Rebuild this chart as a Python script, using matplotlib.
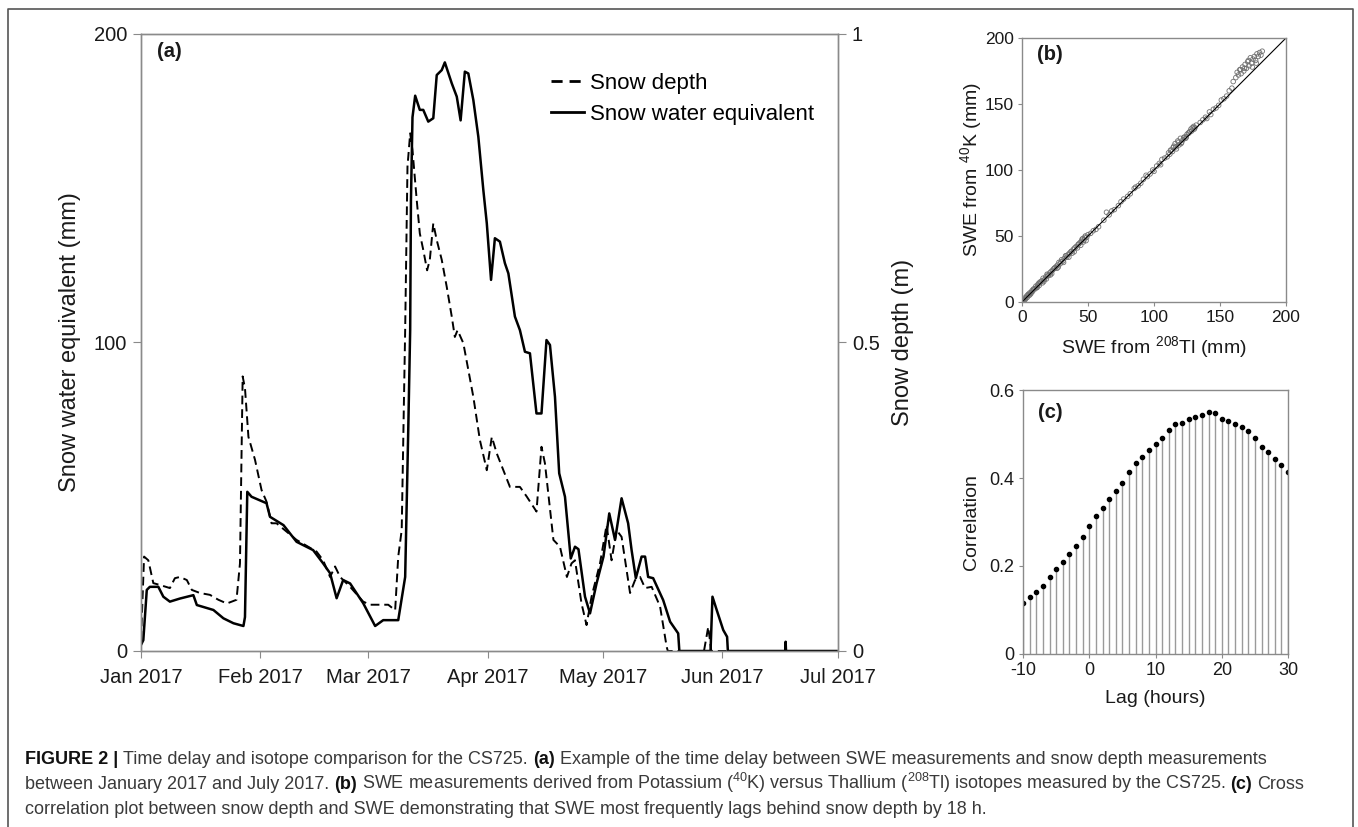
import numpy as np
import matplotlib
matplotlib.use("Agg")
import matplotlib.pyplot as plt
from matplotlib.lines import Line2D

plt.rcParams['font.family'] = ['Liberation Sans', 'DejaVu Sans']
plt.rcParams['mathtext.fontset'] = 'custom'
plt.rcParams['mathtext.rm'] = 'Liberation Sans'
plt.rcParams['mathtext.it'] = 'Liberation Sans:italic'
plt.rcParams['mathtext.bf'] = 'Liberation Sans:bold'
plt.rcParams['axes.unicode_minus'] = False

# ---- data ----
# (a) SWE (mm), days since 1 Jan 2017
swe_day = [0, 0.6, 1.5, 2.3, 4.5, 5.8, 7.5, 10.1, 13.6, 14.5,
           18.8, 21.4, 24, 26.6, 27, 27.6, 28.7, 32.6, 33.5, 37,
           40.4, 44.7, 47.3, 49.1, 50.8, 52.5, 54.3, 57.7, 60.8, 62.9,
           66.8, 68.6, 69.4, 69.9, 70.1, 70.5, 71.2, 72.4, 73.3, 74.6,
           75.9, 76.8, 78.1, 78.9, 80.7, 82, 83, 84.1, 85, 86.3,
           87.6, 88.9, 89.8, 90.9, 91.9, 93.2, 94.5, 95.4, 97.1, 98.4,
           99.7, 101, 102.7, 104, 105.3, 106.2, 107.5, 108.6, 110.1, 111.6,
           112.7, 113.6, 115.3, 116.6, 118.3, 120.1, 121.6, 123.1, 124.8, 126.5,
           127.4, 128.5, 130, 130.9, 131.7, 133, 135.6, 137.4, 139.5, 139.8,
           147.9, 148.4, 149.5, 151.2, 152.2, 152.4, 167.3, 167.4, 167.5, 180.6]
swe_mm = [2, 3.5, 19.8, 20.8, 20.8, 17.6, 16, 17, 18.1, 14.9,
          13.3, 10.6, 9, 8.1, 11, 51.6, 50, 47.9, 43.5, 40.8,
          35.4, 32.7, 28.4, 25.2, 17.1, 23, 21.9, 15.5, 8.1, 10,
          10, 24, 71.6, 104, 146, 173, 180, 175.4, 175.4, 171.6,
          172.7, 186.7, 188.3, 190.8, 184, 179.7, 172, 187.8, 187.2, 178.6,
          166.7, 149.4, 138.6, 120.3, 133.8, 132.7, 125.7, 122.4, 108.4, 104,
          97, 96.5, 77, 77, 100.8, 99.2, 82.4, 57.6, 50, 30,
          33.8, 33, 17.6, 12.2, 21.9, 30.6, 44.6, 36, 49.5, 41.4,
          32.7, 23.6, 30.6, 30.6, 24, 23.6, 16.5, 9.5, 5.7, 0,
          0, 17.6, 13.3, 6.8, 4.6, 0, 0, 3, 0, 0]

# (a) snow depth (m)
depth_day = [0, 0.8, 1.9, 3.2, 4.9, 7.5, 8.8, 10.1, 11.9, 13.2,
             15.3, 17.9, 20.1, 22.3, 24.8, 25.7, 26.4, 27, 27.9, 29.6,
             31.3, 32.6, 33.9, 35.2, 40.4, 45.6, 47.3, 49.1, 50.4, 51.7,
             54.3, 57.7, 59.5, 64.2, 66, 66.8, 67.7, 68.6, 69.2, 69.9,
             70.5, 71.6, 72.4, 73.3, 74.3, 75, 75.9, 76.8, 78.1, 79.4,
             80.7, 81.5, 82.2, 83.7, 86.3, 88, 89.8, 91.1, 92.4, 94.1,
             95.8, 98.4, 100.2, 102.7, 104, 104.9, 107.1, 108.8, 110.6, 111.8,
             112.7, 114.4, 115.7, 117, 119.2, 120.9, 122.2, 123.5, 124.8, 127,
             128.3, 129.6, 130.9, 132.6, 134.8, 136.5, 136.8, 146.2, 147.3, 148.1,
             180.6]
depth_m = [0.018, 0.153, 0.147, 0.110, 0.107, 0.102, 0.118, 0.120, 0.115, 0.099,
           0.094, 0.091, 0.083, 0.077, 0.083, 0.142, 0.445, 0.426, 0.347, 0.31,
           0.261, 0.242, 0.207, 0.207, 0.18, 0.161, 0.147, 0.12, 0.137, 0.12,
           0.104, 0.08, 0.075, 0.075, 0.066, 0.153, 0.196, 0.52, 0.785, 0.839,
           0.812, 0.731, 0.677, 0.65, 0.617, 0.634, 0.693, 0.666, 0.634, 0.59,
           0.542, 0.509, 0.52, 0.499, 0.412, 0.342, 0.293, 0.347, 0.32, 0.293,
           0.266, 0.266, 0.25, 0.226, 0.331, 0.304, 0.18, 0.169, 0.12, 0.142,
           0.147, 0.077, 0.042, 0.088, 0.142, 0.204, 0.147, 0.196, 0.185, 0.094,
           0.115, 0.12, 0.102, 0.104, 0.072, 0.007, 0, 0, 0.039, 0,
           0]

month_starts = ['2017-01-01', '2017-02-01', '2017-03-01', '2017-04-01',
                '2017-05-01', '2017-06-01', '2017-07-01']
month_labels = ['Jan 2017', 'Feb 2017', 'Mar 2017', 'Apr 2017',
                'May 2017', 'Jun 2017', 'Jul 2017']

# (b) SWE from 208Tl vs SWE from 40K (mm)
swe_tl = [0.5, 1, 1.5, 2, 3, 3.5, 4, 5, 5.5, 6, 7, 7.5, 8, 9, 10, 10.5, 11, 12, 12.5, 13,
          14, 15, 15.5, 16, 17, 18, 18.5, 19, 20, 21, 22, 22.5, 23, 24, 25, 26, 27, 27.5,
          28, 29, 30, 31, 32, 33, 34, 35, 36, 37, 38, 39, 40, 41, 42, 43, 44, 45, 46, 47,
          48, 49, 50, 52, 54, 56,
          2.5, 4.5, 6.5, 8.5, 11.5, 13.5, 16.5, 19.5, 21.5, 24.5, 26.5, 29.5, 31.5, 33.5,
          35.5, 37.5, 39.5, 42.5, 44.5, 45.5, 46.5, 47.5, 48.5,
          58, 62, 64, 66, 68, 70, 73, 75, 77, 80, 82, 85, 86, 88, 90, 92, 94, 95, 97, 99, 100,
          102, 104, 105, 106, 108, 110, 111, 112, 113, 114, 115, 116, 117, 118, 119, 120,
          121, 122, 123, 124, 125, 126, 127, 128, 129, 130, 131, 132,
          112.5, 114.5, 116.5, 118.5, 120.5, 122.5, 124.5, 126.5, 128.5, 130.5,
          135, 137, 139, 140, 142, 143, 145, 147, 149, 151, 153, 155, 157, 159,
          160, 162, 163, 164, 165, 166, 167, 168, 169, 170, 171, 172, 173, 174, 175, 176,
          177, 178, 179, 180, 181, 182, 165.5, 168.5, 171.5, 174.5, 177.5]
swe_k = [1, 2, 1, 3, 3, 4.5, 3.5, 6, 5, 7, 7, 8.5, 8, 10, 10, 12, 11, 13, 14, 12.5,
         15, 16, 14.5, 18, 17, 19, 17.5, 21, 20, 22, 23, 21.5, 24, 25, 26, 27, 28, 26.5,
         30, 29, 32, 31, 33, 35, 34, 36, 37, 38, 37, 40, 41, 42, 41, 44, 45, 46, 48, 47,
         50, 49, 51, 52, 54, 55,
         2, 5.5, 6, 9.5, 11, 15, 15.5, 20.5, 20.5, 25.5, 25.5, 30.5, 30, 35,
         34, 38.5, 38, 43.5, 43, 47.5, 45.5, 49, 46.5,
         57, 62, 68, 66, 69, 70, 73, 76, 78, 80, 82, 86, 87, 88, 90, 93, 96, 95, 97, 100, 99,
         103, 105, 104, 108, 109, 110, 113, 112, 115, 114, 118, 120, 116, 122, 119, 124,
         121, 123, 125, 124, 127, 128, 129, 131, 132, 133, 132, 134,
         115, 117, 117.5, 121, 120, 124.5, 125, 128, 129.5, 131,
         136, 138, 140, 139, 144, 142, 146, 147, 149, 153, 154, 156, 160, 162,
         167, 170, 174, 172, 176, 173, 178, 175, 180, 177, 182, 179, 185, 181, 184, 186,
         183, 188, 186, 189, 187, 190, 176, 177, 183, 178, 181]

# (c) cross correlation
lags = list(range(-10, 31))
corr = [0.116, 0.129, 0.140, 0.155, 0.174, 0.193, 0.209, 0.228, 0.246, 0.266,
        0.290, 0.314, 0.331, 0.352, 0.370, 0.389, 0.414, 0.435, 0.447, 0.463,
        0.477, 0.492, 0.509, 0.522, 0.525, 0.534, 0.539, 0.543, 0.549, 0.547,
        0.535, 0.529, 0.522, 0.515, 0.506, 0.491, 0.471, 0.458, 0.444, 0.429,
        0.414]

W, H = 1358, 827
SPINE = '#8a8a8a'
TXT = '#1a1a1a'


def box(l, t, r, b):
    return [l / W, 1 - b / H, (r - l) / W, (b - t) / H]


def style(ax, size):
    for s in ax.spines.values():
        s.set_color(SPINE)
        s.set_linewidth(1)
    ax.tick_params(colors=SPINE, labelcolor=TXT, labelsize=size, direction='out')


fig = plt.figure(figsize=(W / 100, H / 100), dpi=100)

# outer frame (open at the bottom)
fig.add_artist(Line2D([8 / W, 8 / W, 1353 / W, 1353 / W], [0, 1 - 9 / H, 1 - 9 / H, 0],
                      color='#555555', lw=1.2))

# ---- (a) ----
start = np.datetime64('2017-01-01T00:00')
swe_t = start + (np.array(swe_day) * 1440).astype('timedelta64[m]')
depth_t = start + (np.array(depth_day) * 1440).astype('timedelta64[m]')
ticks = np.array(month_starts, dtype='datetime64[m]')

ax = fig.add_axes(box(141, 34, 838, 651))
ax2 = ax.twinx()
ax2.plot(depth_t, depth_m, color='black', lw=1.4, ls=(0, (4.5, 2.5)))
ax.plot(swe_t, swe_mm, color='black', lw=1.8)
ax.set_zorder(ax2.get_zorder() + 1)
ax.patch.set_visible(False)

ax.set_xlim(ticks[0], ticks[-1])
ax.set_ylim(0, 200)
ax2.set_ylim(0, 1)
ax.set_xticks(ticks)
ax.set_xticklabels(month_labels)
ax.set_yticks([0, 100, 200])
ax2.set_yticks([0, 0.5, 1])
ax2.set_yticklabels(['0', '0.5', '1'])
for a in (ax, ax2):
    style(a, 14.5)
ax.tick_params(axis='y', length=6, pad=4)
ax.tick_params(axis='x', length=5, pad=7)
ax2.tick_params(axis='y', length=6, pad=4)

ax.set_ylabel('Snow water equivalent (mm)', fontsize=17, color=TXT, va='center')
ax.yaxis.set_label_coords(-0.102, 0.5)
ax2.set_ylabel('Snow depth (m)', fontsize=17, color=TXT, va='center')
ax2.yaxis.set_label_coords(1.093, 0.5)
ax.text(0.023, 0.971, '(a)', transform=ax.transAxes, fontsize=14.5,
        fontweight='bold', va='center', ha='left', color=TXT)

handles = [Line2D([], [], color='black', lw=2, ls=(0, (4, 2.5))),
           Line2D([], [], color='black', lw=2)]
ax.legend(handles, ['Snow depth', 'Snow water equivalent'], loc='upper left',
          bbox_to_anchor=(0.573, 0.955), frameon=False, fontsize=16,
          borderpad=0, handlelength=1.45, handletextpad=0.3, labelspacing=0.45)

# ---- (b) ----
axb = fig.add_axes(box(1022, 38, 1286, 302))
axb.scatter(swe_tl, swe_k, s=11, facecolors='none', edgecolors='#707070', linewidths=0.6)
axb.plot([0, 200], [0, 200], color='black', lw=0.8)
axb.set_xlim(0, 200)
axb.set_ylim(0, 200)
axb.set_xticks(range(0, 201, 50))
axb.set_yticks(range(0, 201, 50))
style(axb, 12.5)
axb.tick_params(length=3, pad=3)
axb.set_xlabel('SWE from $^{208}$Tl (mm)', fontsize=14, color=TXT, va='center')
axb.xaxis.set_label_coords(0.5, -0.17)
axb.set_ylabel('SWE from $^{40}$K (mm)', fontsize=14, color=TXT, va='center')
axb.yaxis.set_label_coords(-0.193, 0.5)
axb.text(0.057, 0.936, '(b)', transform=axb.transAxes, fontsize=14.5,
         fontweight='bold', va='center', ha='left', color=TXT)

# ---- (c) ----
axc = fig.add_axes(box(1023, 390, 1288, 654))
axc.vlines(lags, 0, corr, color='#9a9a9a', lw=1)
axc.plot(lags, corr, 'o', color='black', ms=3)
axc.set_xlim(-10, 30)
axc.set_ylim(0, 0.6)
axc.set_xticks(range(-10, 31, 10))
axc.set_yticks([0, 0.2, 0.4, 0.6])
axc.set_yticklabels(['0', '0.2', '0.4', '0.6'])
style(axc, 13)
axc.tick_params(length=3, pad=3)
axc.set_xlabel('Lag (hours)', fontsize=14, color=TXT, va='center')
axc.xaxis.set_label_coords(0.5, -0.167)
axc.set_ylabel('Correlation', fontsize=14, color=TXT, va='center')
axc.yaxis.set_label_coords(-0.196, 0.5)
axc.text(0.057, 0.913, '(c)', transform=axc.transAxes, fontsize=14.5,
         fontweight='bold', va='center', ha='left', color=TXT)

# ---- caption ----
cap_lines = [
    [('FIGURE 2 |', True),
     ('Time delay and isotope comparison for the CS725.', False),
     ('(a)', True),
     ('Example of the time delay between SWE measurements and snow depth measurements', False)],
    [('between January 2017 and July 2017.', False),
     ('(b)', True),
     ('SWE measurements derived from Potassium ($^{40}$K) versus Thallium ($^{208}$Tl) '
      'isotopes measured by the CS725.', False),
     ('(c)', True),
     ('Cross', False)],
    [('correlation plot between snow depth and SWE demonstrating that SWE most '
      'frequently lags behind snow depth by 18 h.', False)],
]
cap_base = [764, 789, 814]
CAP_SIZE = 13

renderer = fig.canvas.get_renderer()
t1 = fig.text(0, 0, 'a a', fontsize=CAP_SIZE)
t2 = fig.text(0, 0, 'aa', fontsize=CAP_SIZE)
space_w = t1.get_window_extent(renderer).width - t2.get_window_extent(renderer).width
t1.remove()
t2.remove()

for runs, yb in zip(cap_lines, cap_base):
    x = 25
    for txt, bold in runs:
        t = fig.text(x / W, 1 - yb / H, txt, fontsize=CAP_SIZE, va='baseline', ha='left',
                     fontweight='bold' if bold else 'normal',
                     color='#111111' if bold else '#3a3a3a')
        x += t.get_window_extent(renderer).width + space_w

fig.savefig('out.png', dpi=100)
